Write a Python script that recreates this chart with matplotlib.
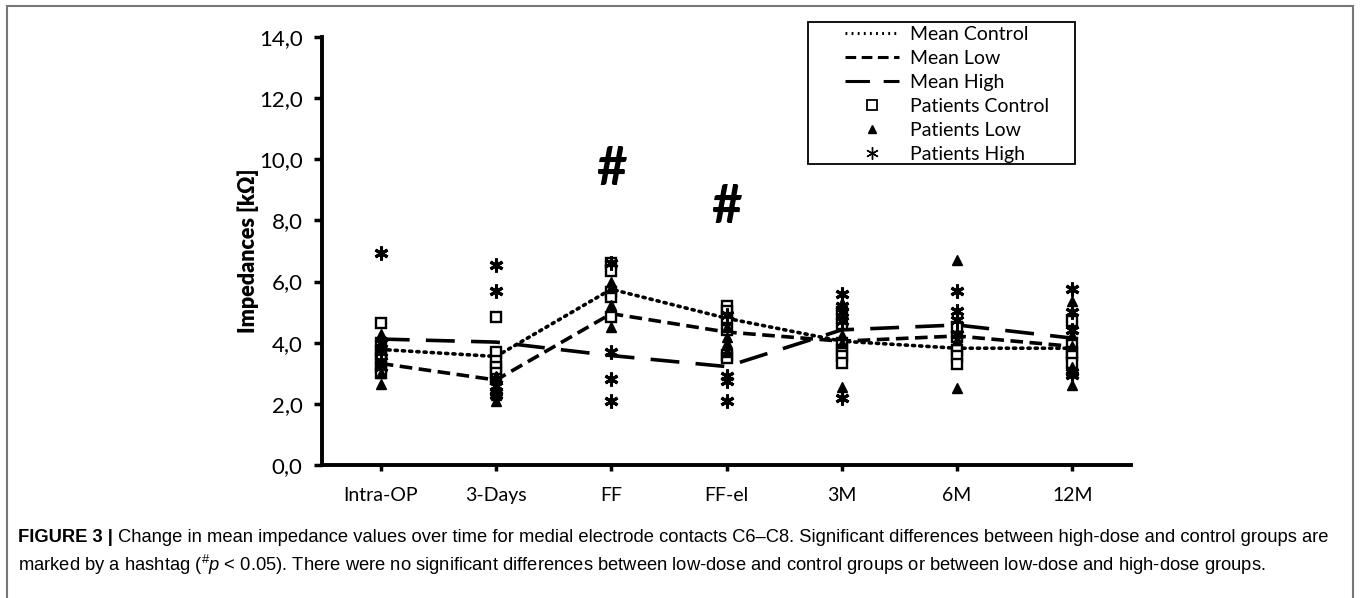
import numpy as np
import matplotlib.pyplot as plt
from matplotlib.lines import Line2D
from matplotlib.patches import Rectangle

plt.rcParams['font.family'] = ['Lato', 'DejaVu Sans']
plt.rcParams['mathtext.fontset'] = 'custom'
plt.rcParams['mathtext.rm'] = 'Liberation Sans'
plt.rcParams['mathtext.it'] = 'Liberation Sans:italic'

timepoints = ['Intra-OP', '3-Days', 'FF', 'FF-el', '3M', '6M', '12M']
y_ticks = [0, 2, 4, 6, 8, 10, 12, 14]
y_labels = ['0,0', '2,0', '4,0', '6,0', '8,0', '10,0', '12,0', '14,0']

mean_control = [3.78, 3.55, 5.75, 4.80, 4.05, 3.82, 3.82]
mean_low = [3.32, 2.78, 4.95, 4.35, 4.05, 4.22, 3.88]
mean_high = [4.12, 4.02, 3.58, 3.22, 4.42, 4.58, 4.15]

patients_control = [
    [4.65, 4.0, 3.7, 3.5, 3.2, 3.0],
    [4.85, 3.7, 3.4, 3.2, 3.0, 2.8],
    [6.6, 6.35, 5.65, 5.5, 4.85],
    [5.2, 5.05, 4.8, 4.4, 3.6, 3.5],
    [5.0, 4.6, 4.0, 3.75, 3.55, 3.35],
    [4.5, 4.2, 3.75, 3.55, 3.3],
    [4.7, 4.0, 3.7, 3.6, 3.35],
]
patients_low = [
    [4.3, 3.9, 3.4, 3.0, 2.65],
    [2.9, 2.5, 2.3, 2.1],
    [6.0, 5.8, 5.25, 4.5],
    [4.5, 4.2, 4.0, 3.7],
    [5.3, 4.25, 4.0, 2.55],
    [6.72, 4.33, 4.1, 2.52],
    [5.35, 4.26, 3.9, 3.2, 2.62],
]
patients_high = [
    [6.95, 4.0, 3.7, 3.4, 3.2],
    [6.55, 5.7, 2.8, 2.6, 2.4, 2.3],
    [6.6, 3.7, 2.8, 2.1],
    [4.9, 2.9, 2.75, 2.1],
    [5.6, 5.2, 5.0, 4.7, 2.2],
    [5.7, 5.05, 4.75, 4.3],
    [5.75, 5.0, 4.4, 3.05, 2.95],
]
hashtag_points = ['FF', 'FF-el']
hashtag_y = [9.67, 8.43]

fig = plt.figure(figsize=(13.6, 5.98), dpi=100)
ax = fig.add_axes([322 / 1360, 1 - 465 / 598, (1131 - 322) / 1360, (465 - 37) / 598])

x = np.arange(len(timepoints))
star = (6, 2, 0)
dot_ls = (0, (0.6, 1.4))
dash_ls = (0, (3.5, 1.8))
long_ls = (0, (8, 4.5))

ax.plot(x, mean_control, color='black', lw=2.6, linestyle=dot_ls,
        dash_capstyle='round', zorder=3)
ax.plot(x, mean_low, color='black', lw=2.6, linestyle=dash_ls, zorder=3)
ax.plot(x, mean_high, color='black', lw=2.6, linestyle=long_ls, zorder=3)

for i in range(len(timepoints)):
    ax.plot([x[i]] * len(patients_control[i]), patients_control[i], linestyle='none', marker='s',
            ms=7.5, mfc='white', mec='black', mew=1.7, zorder=4)
    ax.plot([x[i]] * len(patients_low[i]), patients_low[i], linestyle='none', marker='^',
            ms=7, color='black', zorder=4)
    ax.plot([x[i]] * len(patients_high[i]), patients_high[i], linestyle='none', marker=star,
            ms=10, color='black', mew=2.2, zorder=4)

for name, yv in zip(hashtag_points, hashtag_y):
    ax.text(timepoints.index(name), yv, '#', fontsize=38, fontweight='bold',
            ha='center', va='center')

ax.set_xlim(-0.51, 6.51)
ax.set_ylim(0, 14)
ax.set_xticks(x)
ax.set_xticklabels(timepoints, fontsize=14)
ax.set_yticks(y_ticks)
ax.set_yticklabels(y_labels, fontsize=16)
ax.tick_params(axis='x', length=4, width=2.5, pad=12)
ax.tick_params(axis='y', length=6, width=2.5, pad=8)
ax.spines['top'].set_visible(False)
ax.spines['right'].set_visible(False)
ax.spines['left'].set_linewidth(2.8)
ax.spines['bottom'].set_linewidth(2.8)
ax.set_ylabel('Impedances [kΩ]', fontsize=15.5, fontweight='heavy', labelpad=0)

handles = [
    Line2D([], [], color='black', lw=2.2, linestyle=dot_ls),
    Line2D([], [], color='black', lw=2.2, linestyle=dash_ls),
    Line2D([], [], color='black', lw=2.2, linestyle=long_ls),
    Line2D([], [], linestyle='none', marker='s', ms=7, mfc='white', mec='black', mew=1.3),
    Line2D([], [], linestyle='none', marker='^', ms=6, color='black'),
    Line2D([], [], linestyle='none', marker=star, ms=9, color='black', mew=1),
]
labels = ['Mean Control', 'Mean Low', 'Mean High', 'Patients Control', 'Patients Low', 'Patients High']
fig.legend(handles, labels, loc='upper left', bbox_to_anchor=(845 / 1360, 1 - 26 / 598),
           fontsize=14, frameon=False, handlelength=2.8, handletextpad=0.55,
           labelspacing=0.36, borderpad=0, borderaxespad=0)
fig.add_artist(Rectangle((808 / 1360, 1 - 164 / 598), (1075 - 808) / 1360, (164 - 22) / 598,
                         transform=fig.transFigure, fill=False, edgecolor='black', lw=1.3))

fig.add_artist(Rectangle((7 / 1360, -0.02), (1353 - 7) / 1360, 1 - 6 / 598 + 0.02,
                         transform=fig.transFigure, fill=False, edgecolor='#777777', lw=1.5))

cap_font = 'Liberation Sans'
cap_size = 13.2
bold = fig.text(18 / 1360, 1 - 537 / 598, 'FIGURE 3 |', fontsize=cap_size, fontweight='bold',
                family=cap_font, va='center')
ax.annotate(' Change in mean impedance values over time for medial electrode contacts C6–C8. '
            'Significant differences between high-dose and control groups are',
            xy=(1, 0), xycoords=bold, va='bottom', fontsize=cap_size, family=cap_font,
            annotation_clip=False)
fig.text(18 / 1360, 1 - 565 / 598,
         r'marked by a hashtag ($^{\#}\mathit{p}$ < 0.05). There were no significant differences '
         'between low-dose and control groups or between low-dose and high-dose groups.',
         fontsize=cap_size, family=cap_font, va='center')

fig.savefig('out.png', dpi=100)
